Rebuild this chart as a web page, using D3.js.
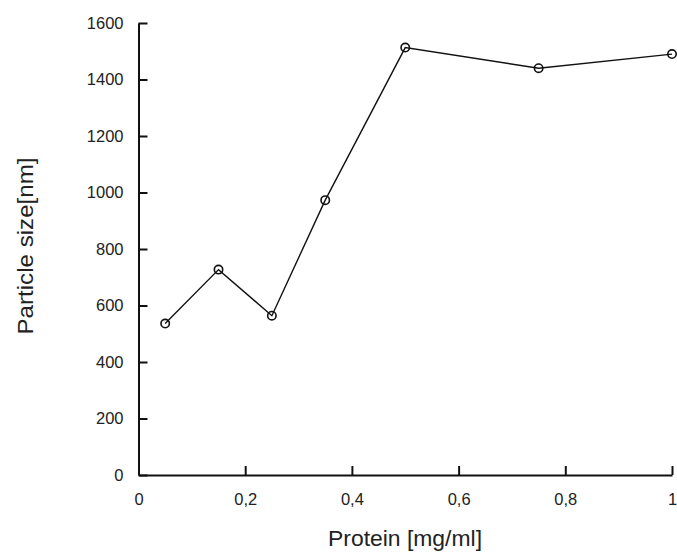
<!DOCTYPE html>
<html>
<head>
<meta charset="utf-8">
<script src="https://cdn.jsdelivr.net/npm/d3@7"></script>
<style>
  body { margin: 0; background: #fff; }
  text { font-family: "Liberation Sans", Arial, sans-serif; fill: #222; }
</style>
</head>
<body>
<svg id="chart" width="677" height="552"></svg>
<script>
// data
const protein = [0.05, 0.15, 0.25, 0.35, 0.5, 0.75, 1.0];
const particleSize = [536, 727, 564, 973, 1513, 1440, 1490];
const xTicks = [0, 0.2, 0.4, 0.6, 0.8, 1];
const yTicks = [0, 200, 400, 600, 800, 1000, 1200, 1400, 1600];

const svg = d3.select("#chart");

const x = d3.scaleLinear().domain([0, 1]).range([138.5, 672]);
const y = d3.scaleLinear().domain([0, 1600]).range([475, 23]);

const fmt = d => String(d).replace(".", ",");

// y axis, ticks pointing inward
const yAxis = svg.append("g")
  .attr("transform", `translate(${x(0)},0)`)
  .call(d3.axisLeft(y).tickValues(yTicks).tickSizeInner(-9).tickSizeOuter(0).tickPadding(15).tickFormat(d => d));

// x axis
const xAxis = svg.append("g")
  .attr("transform", `translate(0,${y(0)})`)
  .call(d3.axisBottom(x).tickValues(xTicks).tickSizeInner(-9).tickSizeOuter(0).tickPadding(18).tickFormat(fmt));

[xAxis, yAxis].forEach(g => {
  g.select(".domain").attr("stroke", "#111").attr("stroke-width", 2);
  g.selectAll(".tick line").attr("stroke", "#111").attr("stroke-width", 2);
  g.selectAll(".tick text")
    .attr("fill", "#222")
    .style("font-family", '"Liberation Sans", Arial, sans-serif')
    .style("font-size", "16.5px");
});

// data line
const line = d3.line()
  .x((d, i) => x(protein[i]))
  .y(d => y(d));

svg.append("path")
  .datum(particleSize)
  .attr("fill", "none")
  .attr("stroke", "#111")
  .attr("stroke-width", 1.4)
  .attr("d", line);

// hollow markers, the line shows through them
svg.selectAll("circle.pt")
  .data(particleSize)
  .enter()
  .append("circle")
  .attr("class", "pt")
  .attr("cx", (d, i) => x(protein[i]))
  .attr("cy", d => y(d))
  .attr("r", 4.2)
  .attr("fill", "none")
  .attr("stroke", "#111")
  .attr("stroke-width", 1.6);

// axis titles
svg.append("text")
  .attr("x", 405)
  .attr("y", 546)
  .attr("text-anchor", "middle")
  .attr("textLength", 154)
  .attr("lengthAdjust", "spacingAndGlyphs")
  .style("font-size", "22px")
  .text("Protein [mg/ml]");

svg.append("text")
  .attr("transform", "translate(33,246) rotate(-90)")
  .attr("text-anchor", "middle")
  .attr("textLength", 177)
  .attr("lengthAdjust", "spacingAndGlyphs")
  .style("font-size", "22px")
  .text("Particle size[nm]");
</script>
</body>
</html>
